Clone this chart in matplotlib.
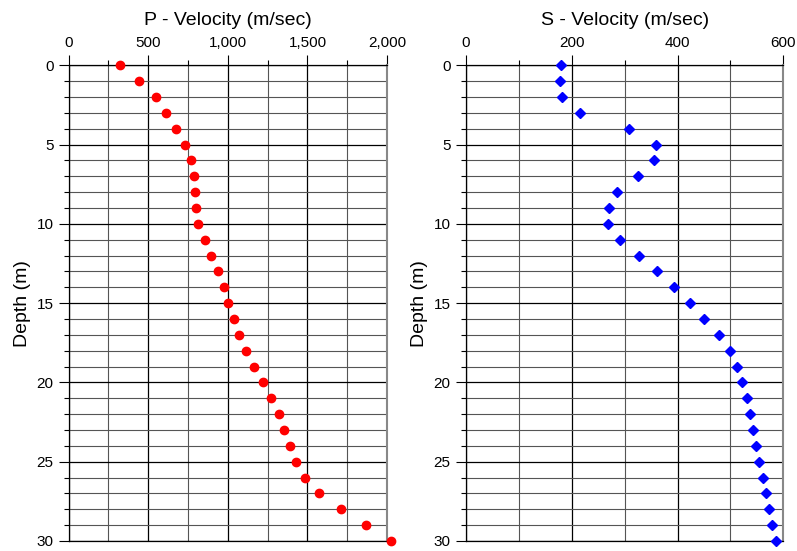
import numpy as np
import matplotlib.pyplot as plt
from matplotlib.ticker import MultipleLocator, FuncFormatter

plt.rcParams['font.family'] = ['Liberation Sans', 'DejaVu Sans']

# profundidade (m)
depth = list(range(0, 31))

# velocidade P (m/s)
vp = [324, 441, 546, 611, 674, 728, 770, 787, 795, 801,
      812, 854, 896, 940, 973, 1000, 1036, 1068, 1113, 1164,
      1218, 1270, 1321, 1352, 1388, 1426, 1482, 1574, 1712, 1867, 2028]

# velocidade S (m/s)
vs = [179, 177, 181, 216, 308, 359, 356, 325, 286, 270,
      268, 292, 327, 362, 394, 424, 451, 478, 499, 512,
      522, 531, 537, 543, 549, 554, 561, 567, 573, 579, 586]

fig = plt.figure(figsize=(7.97, 5.51), dpi=100)
ax1 = fig.add_axes([0.0862, 0.0182, 0.3994, 0.8633])
ax2 = fig.add_axes([0.5847, 0.0182, 0.3981, 0.8633])


def formatar(ax, xmax, xmaj, xmin, titulo):
    ax.set_xlim(0, xmax)
    ax.set_ylim(30, 0)
    ax.xaxis.tick_top()
    ax.xaxis.set_label_position('top')
    ax.xaxis.set_major_locator(MultipleLocator(xmaj))
    ax.xaxis.set_minor_locator(MultipleLocator(xmin))
    ax.yaxis.set_major_locator(MultipleLocator(5))
    ax.yaxis.set_minor_locator(MultipleLocator(1))
    ax.xaxis.set_major_formatter(FuncFormatter(lambda v, p: f'{int(v):,}'))
    ax.tick_params(which='major', length=7, width=0.8, labelsize=11, direction='out', pad=4)
    ax.tick_params(which='minor', length=3.5, width=0.8, direction='out')
    ax.grid(which='major', color='black', linewidth=0.9)
    ax.grid(which='minor', color='#555555', linewidth=0.8)
    ax.set_axisbelow(True)
    for lado in ['left', 'bottom', 'top']:
        ax.spines[lado].set_color('black')
        ax.spines[lado].set_linewidth(0.9)
    ax.spines['right'].set_color('#888888')
    ax.spines['right'].set_linewidth(1.5)
    ax.set_xlabel(titulo, fontsize=14, labelpad=8)
    ax.set_ylabel('Depth (m)', fontsize=14, labelpad=4)


formatar(ax1, 2000, 500, 250, 'P - Velocity (m/sec)')
formatar(ax2, 600, 200, 100, 'S - Velocity (m/sec)')

ax1.plot(vp, depth, 'o', color='red', markersize=6, clip_on=False, zorder=5)
ax2.plot(vs, depth, 'D', color='blue', markersize=5.5, clip_on=False, zorder=5)

plt.savefig('out.png', dpi=100)
